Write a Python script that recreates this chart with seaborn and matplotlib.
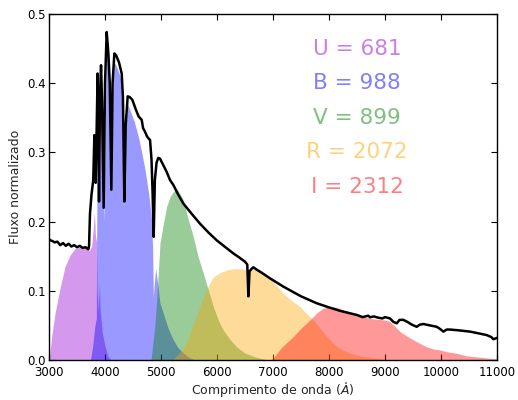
import numpy as np
import pandas as pd
import matplotlib
matplotlib.use("Agg")
import matplotlib.pyplot as plt
import seaborn as sns

# Stellar spectrum (wavelength in Angstrom, normalized flux)
spec_wave = [3000, 3020, 3060, 3100, 3150, 3200, 3250, 3300, 3350, 3400, 3450, 3500, 3550,
             3600, 3650, 3702, 3715, 3732, 3760, 3790, 3810, 3833, 3850, 3868, 3880, 3893,
             3910, 3929, 3945, 3976, 4000, 4030, 4060, 4085, 4113, 4135, 4167, 4200, 4250,
             4298, 4320, 4345, 4370, 4405, 4440, 4488, 4550, 4600, 4655, 4680, 4714, 4750,
             4780, 4804, 4830, 4850, 4869, 4890, 4920, 4950, 4982, 5050, 5100, 5161, 5220,
             5300, 5399, 5550, 5696, 5850, 5994, 6150, 6292, 6400, 6500, 6540, 6560, 6580,
             6619, 6649, 6700, 6800, 6946, 7185, 7500, 7780, 8000, 8200, 8375, 8500, 8600,
             8700, 8732, 8800, 8851, 8950, 9000, 9089, 9150, 9208, 9260, 9327, 9400, 9480,
             9565, 9620, 9685, 9800, 9923, 9980, 10042, 10100, 10161, 10300, 10518, 10700,
             10815, 10900, 10935, 11000]
spec_flux = [0.175, 0.173, 0.172, 0.170, 0.171, 0.166, 0.169, 0.165, 0.168, 0.164, 0.166,
             0.163, 0.165, 0.162, 0.163, 0.160, 0.165, 0.212, 0.240, 0.260, 0.325, 0.256,
             0.330, 0.414, 0.350, 0.229, 0.380, 0.426, 0.380, 0.220, 0.400, 0.474, 0.443,
             0.400, 0.246, 0.400, 0.443, 0.440, 0.430, 0.414, 0.380, 0.229, 0.340, 0.381,
             0.380, 0.376, 0.362, 0.352, 0.347, 0.335, 0.330, 0.323, 0.320, 0.318, 0.290,
             0.240, 0.178, 0.260, 0.285, 0.292, 0.291, 0.280, 0.272, 0.260, 0.253, 0.240,
             0.226, 0.211, 0.197, 0.184, 0.173, 0.163, 0.154, 0.148, 0.142, 0.138, 0.092,
             0.128, 0.132, 0.134, 0.131, 0.126, 0.118, 0.106, 0.092, 0.082, 0.076, 0.071,
             0.0675, 0.065, 0.062, 0.064, 0.0617, 0.063, 0.0617, 0.060, 0.062, 0.060, 0.055,
             0.053, 0.058, 0.058, 0.055, 0.051, 0.048, 0.051, 0.052, 0.050, 0.048, 0.045,
             0.041, 0.044, 0.044, 0.043, 0.041, 0.038, 0.036, 0.033, 0.030, 0.032]

# Flux through each filter
u_wave = [3000, 3050, 3107, 3200, 3286, 3380, 3464, 3550, 3650, 3720, 3762, 3790, 3810,
          3830, 3850, 3860, 3880, 3900, 3915, 3950, 4000, 4050, 4100]
u_flux = [0.0, 0.035, 0.067, 0.105, 0.135, 0.152, 0.161, 0.163, 0.162, 0.158, 0.165, 0.19,
          0.214, 0.18, 0.17, 0.10, 0.07, 0.11, 0.07, 0.04, 0.02, 0.006, 0.0]

b_wave = [3740, 3780, 3820, 3845, 3852, 3868, 3893, 3929, 3976, 4030, 4060, 4085, 4113,
          4135, 4167, 4200, 4250, 4298, 4345, 4370, 4405, 4446, 4520, 4595, 4655, 4714,
          4780, 4833, 4850, 4863, 4880, 4905, 4940, 4982, 5042, 5130, 5220, 5300, 5399,
          5500, 5600]
b_flux = [0.0, 0.02, 0.05, 0.06, 0.19, 0.40, 0.22, 0.41, 0.20, 0.46, 0.43, 0.39, 0.24,
          0.39, 0.43, 0.425, 0.415, 0.40, 0.22, 0.33, 0.37, 0.361, 0.345, 0.323, 0.30,
          0.275, 0.24, 0.202, 0.16, 0.091, 0.11, 0.132, 0.11, 0.082, 0.067, 0.045, 0.029,
          0.018, 0.01, 0.004, 0.0]

v_wave = [4820, 4850, 4890, 4923, 4982, 5042, 5101, 5161, 5220, 5280, 5340, 5399, 5480,
          5577, 5660, 5756, 5850, 5935, 6020, 6113, 6230, 6351, 6500, 6700, 6900]
v_flux = [0.0, 0.02, 0.05, 0.087, 0.169, 0.197, 0.222, 0.236, 0.243, 0.248, 0.24, 0.231,
          0.205, 0.178, 0.15, 0.125, 0.10, 0.077, 0.058, 0.043, 0.03, 0.019, 0.01, 0.004, 0.0]

r_wave = [5200, 5350, 5450, 5518, 5640, 5756, 5850, 5935, 6050, 6173, 6300, 6411, 6500,
          6560, 6649, 6768, 6900, 7006, 7185, 7330, 7482, 7600, 7720, 7850, 7958, 8100,
          8256, 8400, 8554, 8800, 9100]
r_flux = [0.0, 0.012, 0.025, 0.039, 0.065, 0.091, 0.108, 0.12, 0.126, 0.13, 0.132, 0.132,
          0.131, 0.128, 0.132, 0.128, 0.12, 0.113, 0.096, 0.086, 0.077, 0.067, 0.058, 0.045,
          0.034, 0.022, 0.014, 0.009, 0.006, 0.003, 0.0]

i_wave = [6950, 7006, 7150, 7363, 7500, 7661, 7780, 7899, 8000, 8137, 8300, 8435, 8600,
          8732, 8850, 8970, 9080, 9149, 9268, 9400, 9506, 9620, 9744, 9863, 9982, 10101,
          10280, 10458, 10696, 10935, 11000]
i_flux = [0.0, 0.003, 0.018, 0.034, 0.046, 0.058, 0.068, 0.075, 0.077, 0.076, 0.071,
          0.0675, 0.063, 0.060, 0.059, 0.058, 0.056, 0.051, 0.041, 0.034, 0.029, 0.024,
          0.019, 0.016, 0.0145, 0.012, 0.0096, 0.006, 0.004, 0.002, 0.0015]

band_names = ["U", "B", "V", "R", "I"]
band_counts = [681, 988, 899, 2072, 2312]
band_colors = ["darkviolet", "blue", "green", "orange", "red"]
label_y = [0.450, 0.400, 0.350, 0.300, 0.250]

sns.set_style("ticks")
plt.rcParams.update({
    "font.family": ["DejaVu Sans"],
    "xtick.direction": "in", "ytick.direction": "in",
    "xtick.top": True, "ytick.right": True,
    "xtick.major.size": 4, "ytick.major.size": 4,
    "axes.edgecolor": "black", "axes.linewidth": 1.0,
    "xtick.color": "black", "ytick.color": "black",
})

fig = plt.figure(figsize=(5.18, 4.00), dpi=100)
ax = fig.add_axes([0.0946, 0.10, 0.865, 0.865])

bands = [(u_wave, u_flux), (b_wave, b_flux), (v_wave, v_flux), (r_wave, r_flux), (i_wave, i_flux)]
for (w, f), c in zip(bands, band_colors):
    ax.fill_between(w, 0, f, color=c, alpha=0.4, linewidth=0)

spec = pd.DataFrame({"wave": spec_wave, "flux": spec_flux})
sns.lineplot(data=spec, x="wave", y="flux", color="black", linewidth=1.8, ax=ax,
             zorder=5, sort=False)

for name, cnt, c, y in zip(band_names, band_counts, band_colors, label_y):
    ax.text(8500, y, f"{name} = {cnt}", color=c, alpha=0.5, fontsize=15.5,
            ha="center", va="center")

ax.set_xlim(3000, 11000)
ax.set_ylim(0, 0.5)
ax.set_xticks(range(3000, 11001, 1000))
ax.set_yticks([0.0, 0.1, 0.2, 0.3, 0.4, 0.5])
ax.set_yticklabels(["0.0", "0.1", "0.2", "0.3", "0.4", "0.5"])
ax.tick_params(labelsize=8.5)
ax.tick_params(axis="x", pad=4.5)
ax.tick_params(axis="y", pad=2)
ax.set_xlabel(r"Comprimento de onda ($\mathring{A}$)", fontsize=9, labelpad=0.5)
ax.set_ylabel("Fluxo normalizado", fontsize=9)

fig.savefig("out.png", dpi=100)
